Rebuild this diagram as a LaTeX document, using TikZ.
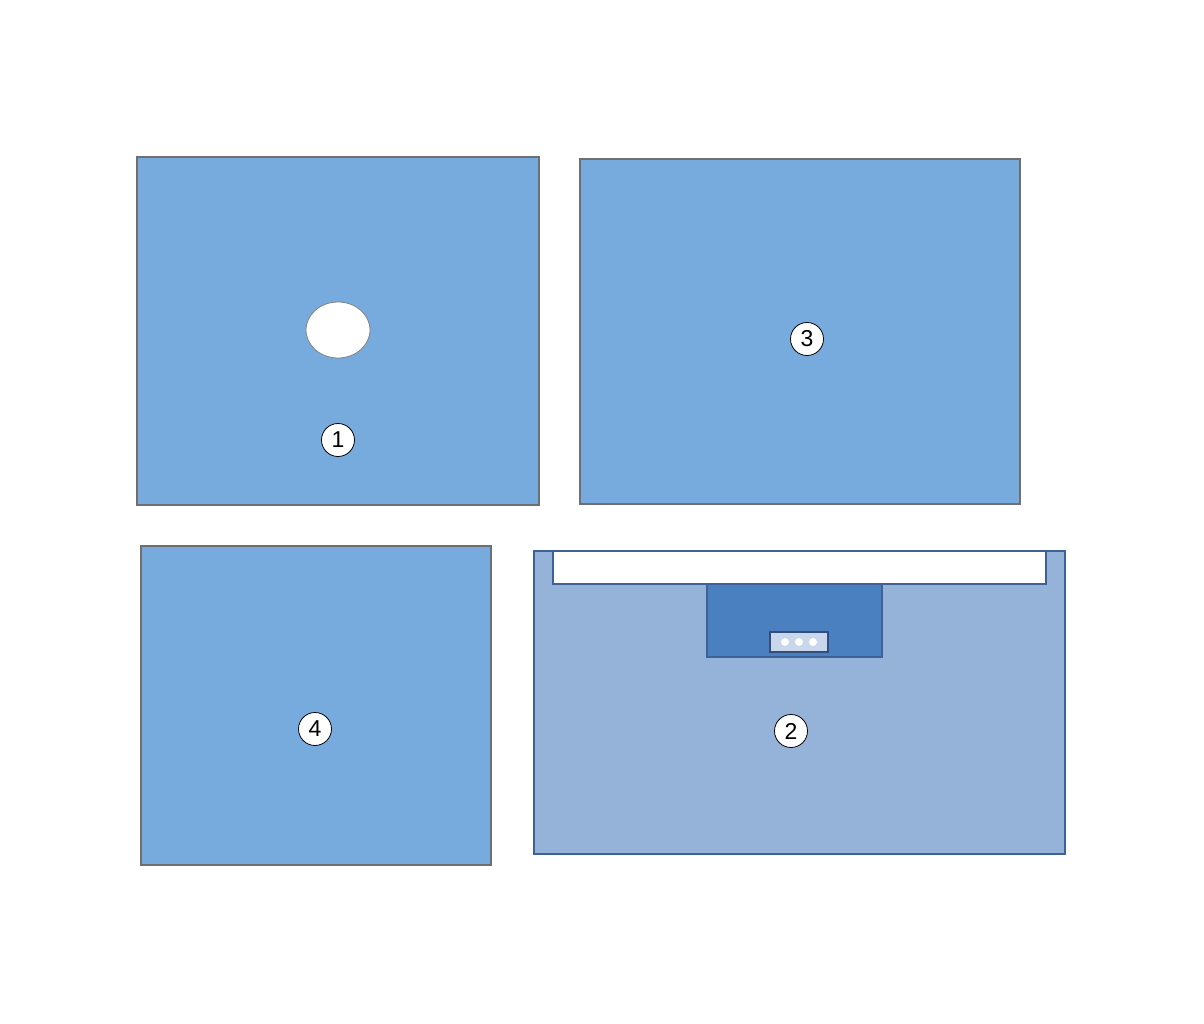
\documentclass[tikz,border=0pt]{standalone}
\usepackage{fontspec}
\setmainfont{Liberation Sans}
\usetikzlibrary{shapes.geometric}
\definecolor{drape}{RGB}{119,171,221}
\definecolor{drapeedge}{RGB}{110,110,115}
\definecolor{ptwo}{RGB}{149,178,217}
\definecolor{ptwoedge}{RGB}{62,98,152}
\definecolor{pdark}{RGB}{74,127,192}
\definecolor{pbox}{RGB}{200,215,235}
\begin{document}
\begin{tikzpicture}[x=1pt,y=-1pt,
  panel/.style={fill=drape,draw=drapeedge,line width=1.2pt},
  numlabel/.style={circle,draw=black,fill=white,line width=0.8pt,minimum size=33pt,inner sep=0pt,font=\fontsize{23}{23}\selectfont},
]
\useasboundingbox (0,0) rectangle (1204,1024);
% panel 1
\path[panel] (137,157) rectangle (539,505);
\node[ellipse,draw=gray,fill=white,minimum width=64pt,minimum height=56pt,line width=0.8pt,inner sep=0pt] (hole) at (338,330) {};
\node[numlabel] (n1) at (338,440) {1};
% panel 3
\path[panel] (580,159) rectangle (1020,504);
\node[numlabel] (n3) at (807,339) {3};
% panel 4
\path[panel] (141,546) rectangle (491,865);
\node[numlabel] (n4) at (315,729) {4};
% panel 2
\path[fill=ptwo,draw=ptwoedge,line width=2pt] (534,551) rectangle (1065,854);
\path[fill=white,draw=ptwoedge,line width=1.5pt] (553,551) rectangle (1046,584);
\path[fill=pdark,draw=ptwoedge,line width=1.5pt] (707,584) rectangle (882,657);
\path[fill=pbox,draw=ptwoedge!80!black,line width=1.5pt] (770,632) rectangle (828,652);
\foreach \xx in {785,799,813} \fill[white] (\xx,642) circle (4);
\node[numlabel] (n2) at (791,731) {2};
\end{tikzpicture}
\end{document}
